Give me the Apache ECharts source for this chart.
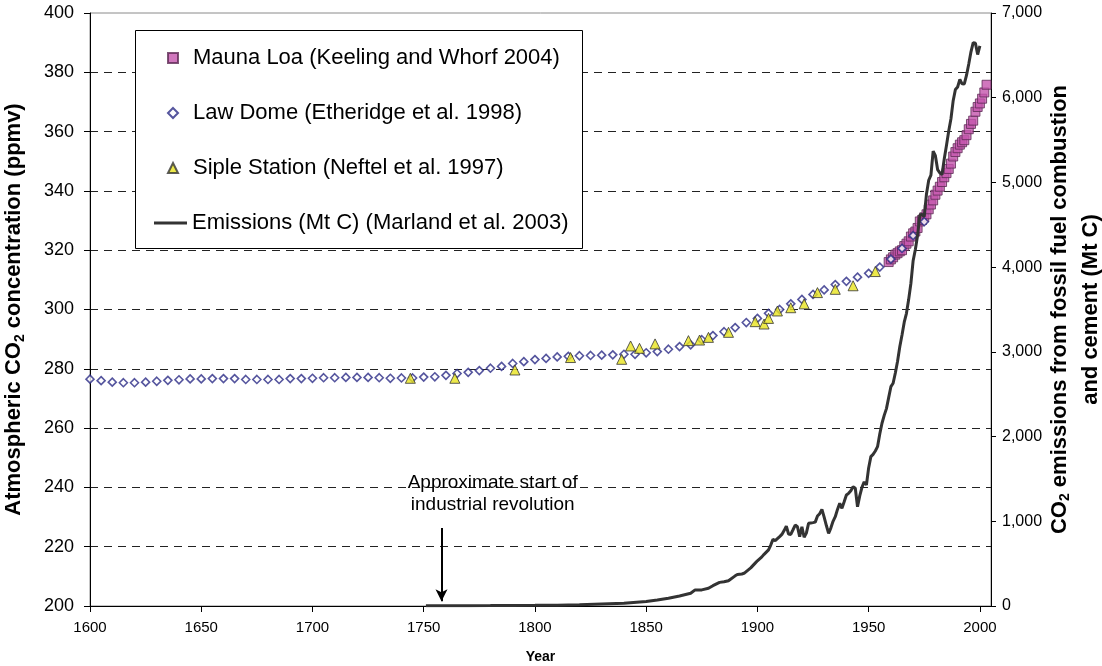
<!DOCTYPE html>
<html>
<head>
<meta charset="utf-8">
<script src="https://cdn.jsdelivr.net/npm/echarts@6/dist/echarts.min.js"></script>
<style>
  html, body { margin: 0; padding: 0; background: #fff; }
  #chart { width: 1102px; height: 666px; }
</style>
</head>
<body>
<div id="chart"></div>
<script>
const FONT = '"Liberation Sans", Arial, Helvetica, sans-serif';

// Law Dome ice core, CO2 (ppmv), 5-year spacing
const lawDomeYears = [1600,1605,1610,1615,1620,1625,1630,1635,1640,1645,1650,1655,1660,1665,1670,1675,1680,1685,1690,1695,
  1700,1705,1710,1715,1720,1725,1730,1735,1740,1745,1750,1755,1760,1765,1770,1775,1780,1785,1790,1795,
  1800,1805,1810,1815,1820,1825,1830,1835,1840,1845,1850,1855,1860,1865,1870,1875,1880,1885,1890,1895,
  1900,1905,1910,1915,1920,1925,1930,1935,1940,1945,1950,1955,1960,1965,1970,1975];
const lawDomeCO2 = [276.5,276.0,275.5,275.3,275.3,275.5,275.8,276.1,276.3,276.6,276.6,276.7,276.7,276.7,276.4,276.4,276.4,276.4,276.7,276.7,
  276.8,277.0,277.0,277.1,277.1,277.1,277.0,276.8,276.9,276.9,277.2,277.3,277.8,278.4,278.8,279.4,280.2,280.8,281.8,282.4,
  283.1,283.5,284.0,284.2,284.4,284.5,284.6,284.7,284.9,284.9,285.4,285.8,286.6,287.5,288.1,289.8,291.2,292.5,293.9,295.6,
  297.0,298.7,300.0,301.9,303.4,305.1,306.6,308.4,309.5,310.9,312.2,314.3,317.0,320.6,324.9,329.6];

// Siple Station ice core, CO2 (ppmv)
const sipleYears = [1744,1764,1791,1816,1839,1843,1847,1854,1869,1874,1878,1887,1899,1903,1905,1909,1915,1921,1927,1935,1943,1953];
const sipleCO2 = [276.8,276.8,279.6,283.8,283.2,287.7,286.9,288.4,289.5,289.7,290.6,292.3,295.9,295.1,297.0,299.5,300.6,301.9,305.7,306.8,308.0,312.8];

// Mauna Loa annual means, CO2 (ppmv)
const maunaLoaYears = [1959,1960,1961,1962,1963,1964,1965,1966,1967,1968,1969,1970,1971,1972,1973,1974,1975,1976,1977,1978,
  1979,1980,1981,1982,1983,1984,1985,1986,1987,1988,1989,1990,1991,1992,1993,1994,1995,1996,1997,1998,
  1999,2000,2001,2002,2003];
const maunaLoaCO2 = [316.0,316.9,317.6,318.5,319.0,319.6,320.0,321.4,322.2,323.0,324.6,325.7,326.3,327.5,329.7,330.2,331.1,332.1,333.8,335.4,
  336.8,338.7,340.1,341.4,343.0,344.6,346.0,347.4,349.2,351.6,353.1,354.4,355.6,356.4,357.1,358.8,360.8,362.6,363.7,366.7,
  368.3,369.5,371.1,373.2,375.8];

// Fossil fuel + cement emissions (Mt C)
const emissionYears = [1751,1760,1770,1780,1790,1800,1810,1820,1830,1840,1850,1855,1860,1865,1870,1872,1875,1878,1880,1883,
  1885,1887,1890,1891,1893,1894,1897,1899,1900,1902,1903,1905,1906,1907,1908,1910,1911,1912,1913,1914,
  1915,1916,1917,1918,1919,1920,1921,1922,1923,1924,1925,1926,1927,1928,1929,1930,1931,1932,1933,1934,
  1935,1936,1937,1938,1939,1940,1941,1942,1943,1944,1945,1946,1947,1948,1949,1950,1951,1952,1953,1954,
  1955,1956,1957,1958,1959,1960,1961,1962,1963,1964,1965,1966,1967,1968,1969,1970,1971,1972,1973,1974,
  1975,1976,1977,1978,1979,1980,1981,1982,1983,1984,1985,1986,1987,1988,1989,1990,1991,1992,1993,1994,
  1995,1996,1997,1998,1999,2000];
const emissionMtC = [3,3,4,5,7,8,10,14,24,33,54,72,91,118,150,190,190,209,240,279,
  287,299,356,372,378,386,450,506,534,580,610,663,720,787,771,819,845,890,943,850,
  845,900,956,936,818,936,811,860,976,980,984,990,1062,1090,1141,1050,950,858,920,1000,
  1054,1140,1212,1153,1230,1310,1330,1360,1408,1390,1172,1300,1400,1467,1428,1630,1763,1790,1830,1881,
  2030,2157,2250,2330,2460,2589,2629,2750,2890,3060,3200,3350,3455,3620,3810,4076,4208,4376,4615,4623,
  4596,4864,5026,5087,5369,5315,5152,5113,5094,5280,5439,5607,5752,5965,6097,6127,6217,6164,6162,6266,
  6398,6542,6651,6643,6510,6611];

// Axis tick labels
const yearTickLabels = [1600,1650,1700,1750,1800,1850,1900,1950,2000];
const co2TickLabels = [200,220,240,260,280,300,320,340,360,380,400];
const emissionTickLabels = [0,1000,2000,3000,4000,5000,6000,7000];

// Annotation for the industrial revolution
const industrialStartYear = 1758;
const annotationText = 'Approximate start of\nindustrial revolution';

const pairs = (xs, ys) => xs.map((x, i) => [x, ys[i]]);

const seriesNames = [
  'Mauna Loa (Keeling and Whorf 2004)',
  'Law Dome (Etheridge et al. 1998)',
  'Siple Station (Neftel et al. 1997)',
  'Emissions (Mt C) (Marland et al. 2003)'
];

// Split-line colours: the topmost one is left to the grid border (solid grey)
const splitColors = co2TickLabels.map((v, i) => i === co2TickLabels.length - 1 ? 'rgba(0,0,0,0)' : '#222');

const legendText = { fontFamily: FONT, fontSize: 22, lineHeight: 24, color: '#000' };

const chart = echarts.init(document.getElementById('chart'), null, { renderer: 'canvas' });

chart.setOption({
  animation: false,
  backgroundColor: '#fff',
  textStyle: { fontFamily: FONT, color: '#000' },
  grid: {
    left: 90, right: 111, top: 13, bottom: 60,
    outerBoundsMode: 'none',
    containLabel: false,
    show: true, borderColor: '#8a8a8a', borderWidth: 1, backgroundColor: 'transparent'
  },
  // Legend frame
  graphic: [{
    type: 'rect',
    left: 135, top: 30,
    shape: { width: 447, height: 218 },
    style: { fill: '#fff', stroke: '#000', lineWidth: 1 },
    z: 10
  }],
  legend: [
    {
      orient: 'vertical',
      left: 167, top: 46,
      padding: 0,
      itemGap: 31,
      itemWidth: 10,
      itemHeight: 10,
      textStyle: Object.assign({ padding: [0, 0, 0, 10] }, legendText),
      data: seriesNames.slice(0, 3),
      z: 11
    },
    {
      orient: 'vertical',
      left: 154, top: 211,
      padding: 0,
      itemWidth: 33,
      itemHeight: 3,
      icon: 'rect',
      textStyle: legendText,
      data: seriesNames.slice(3),
      z: 11
    }
  ],
  xAxis: {
    type: 'value',
    min: 1600, max: 2005, interval: 50,
    name: 'Year',
    nameLocation: 'middle',
    nameGap: 44,
    nameMoveOverlap: false,
    nameTextStyle: { fontFamily: FONT, fontSize: 14, fontWeight: 'bold', color: '#000' },
    axisLine: { show: true, lineStyle: { color: '#000', width: 1 } },
    axisTick: { show: true, inside: false, length: 6, lineStyle: { color: '#000' } },
    axisLabel: {
      fontFamily: FONT, fontSize: 15, color: '#000', margin: 14,
      showMaxLabel: false,
      formatter: v => yearTickLabels.includes(v) ? String(v) : ''
    },
    splitLine: { show: false }
  },
  yAxis: [
    {
      type: 'value',
      min: co2TickLabels[0], max: co2TickLabels[co2TickLabels.length - 1], interval: 20,
      name: 'Atmospheric CO{s|2} concentration (ppmv)',
      nameLocation: 'middle',
      nameRotate: 90,
      nameGap: 63,
      nameMoveOverlap: false,
      nameTextStyle: {
        fontFamily: FONT, fontSize: 22, fontWeight: 'bold', color: '#000',
        rich: { s: { fontFamily: FONT, fontSize: 14, fontWeight: 'bold', color: '#000', padding: [12, 0, 0, 0] } }
      },
      axisLine: { show: true, lineStyle: { color: '#000', width: 1 } },
      axisTick: { show: true, inside: false, length: 6, lineStyle: { color: '#000' } },
      axisLabel: { fontFamily: FONT, fontSize: 18, color: '#000', margin: 16 },
      splitLine: { show: true, lineStyle: { color: splitColors, width: 1, type: [8, 6] } }
    },
    {
      type: 'value',
      min: emissionTickLabels[0], max: emissionTickLabels[emissionTickLabels.length - 1], interval: 1000,
      position: 'right',
      name: 'CO{s|2} emissions from fossil fuel combustion\nand cement (Mt C)',
      nameLocation: 'middle',
      nameRotate: 90,
      nameGap: 53,
      nameMoveOverlap: false,
      nameTextStyle: {
        fontFamily: FONT, fontSize: 22, fontWeight: 'bold', color: '#000', lineHeight: 31, align: 'center',
        rich: { s: { fontFamily: FONT, fontSize: 14, fontWeight: 'bold', color: '#000', padding: [12, 0, 0, 0] } }
      },
      axisLine: { show: true, lineStyle: { color: '#000', width: 1 } },
      axisTick: { show: true, inside: false, length: 5, lineStyle: { color: '#000' } },
      axisLabel: {
        fontFamily: FONT, fontSize: 16, color: '#000', margin: 11,
        formatter: v => v.toLocaleString('en-US')
      },
      splitLine: { show: false }
    }
  ],
  series: [
    {
      name: seriesNames[0],
      type: 'scatter',
      yAxisIndex: 0,
      symbol: 'rect',
      symbolSize: 9,
      itemStyle: { color: '#C455AC', borderColor: '#5E2A55', borderWidth: 1 },
      data: pairs(maunaLoaYears, maunaLoaCO2),
      z: 2
    },
    {
      name: seriesNames[1],
      type: 'scatter',
      yAxisIndex: 0,
      symbol: 'diamond',
      symbolSize: 8,
      itemStyle: { color: '#fff', borderColor: '#2A2A86', borderWidth: 1.6 },
      data: pairs(lawDomeYears, lawDomeCO2),
      z: 3,
      markLine: {
        silent: true,
        symbol: ['none', 'arrow'],
        symbolSize: [9, 12],
        label: { show: false },
        lineStyle: { color: '#000', width: 2, type: 'solid' },
        data: [[{ coord: [industrialStartYear, 226.3] }, { coord: [industrialStartYear, 201.6] }]]
      },
      markPoint: {
        silent: true,
        symbol: 'rect',
        symbolSize: 0,
        itemStyle: { color: 'rgba(0,0,0,0)' },
        label: {
          show: true, position: 'inside', formatter: annotationText,
          fontFamily: FONT, fontSize: 19, lineHeight: 22, color: '#000', align: 'center'
        },
        data: [{ coord: [1781, 237.8] }]
      }
    },
    {
      name: seriesNames[2],
      type: 'scatter',
      yAxisIndex: 0,
      symbol: 'triangle',
      symbolSize: 10,
      itemStyle: { color: '#E8E31E', borderColor: '#333', borderWidth: 1 },
      data: pairs(sipleYears, sipleCO2),
      z: 4
    },
    {
      name: seriesNames[3],
      type: 'line',
      yAxisIndex: 1,
      symbol: 'none',
      showSymbol: false,
      lineStyle: { color: '#333', width: 3 },
      itemStyle: { color: '#333' },
      data: pairs(emissionYears, emissionMtC),
      z: 5
    }
  ]
});
</script>
</body>
</html>
